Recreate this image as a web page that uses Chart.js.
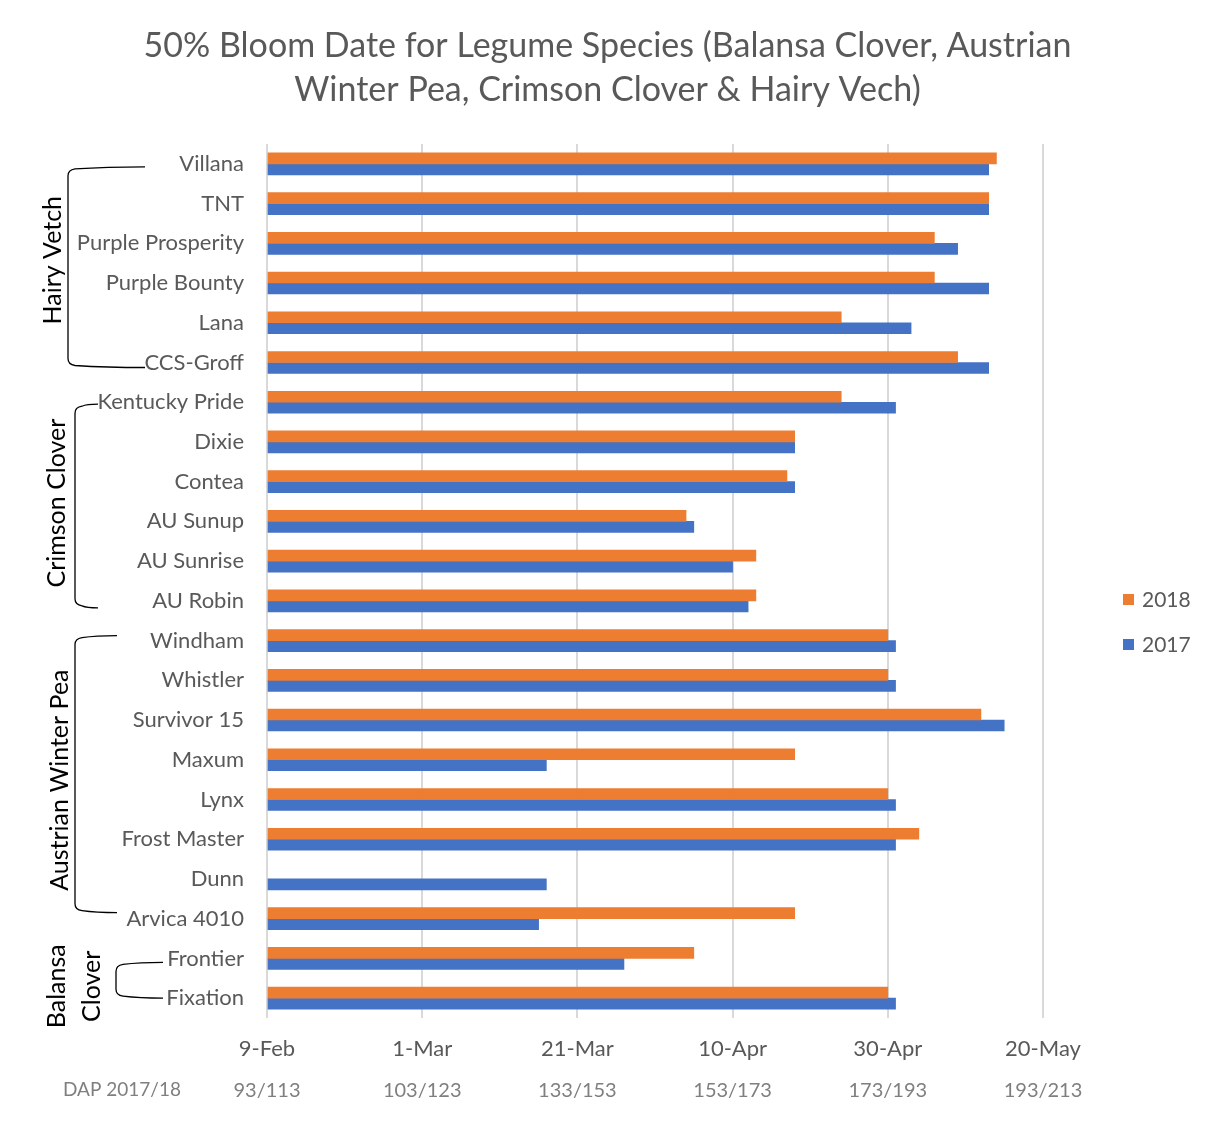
<!DOCTYPE html>
<html>
<head>
<meta charset="utf-8">
<script src="https://cdn.jsdelivr.net/npm/chart.js@4.4.1/dist/chart.umd.min.js"></script>
<style>
  body { margin: 0; background: #fff; }
  #wrap { width: 1215px; height: 1128px; }
</style>
</head>
<body>
<div id="wrap"><canvas id="chart"></canvas></div>
<script>
// varieties, top to bottom
const varieties = ['Villana', 'TNT', 'Purple Prosperity', 'Purple Bounty', 'Lana', 'CCS-Groff',
  'Kentucky Pride', 'Dixie', 'Contea', 'AU Sunup', 'AU Sunrise', 'AU Robin',
  'Windham', 'Whistler', 'Survivor 15', 'Maxum', 'Lynx', 'Frost Master', 'Dunn', 'Arvica 4010',
  'Frontier', 'Fixation'];

// 50% bloom, in days after 9-Feb
const bloom2018 = [94, 93, 86, 86, 74, 89, 74, 68, 67, 54, 63, 63, 80, 80, 92, 68, 80, 84, null, 68, 55, 80];
const bloom2017 = [93, 93, 89, 93, 83, 93, 81, 68, 68, 55, 60, 62, 81, 81, 95, 36, 81, 81, 36, 35, 46, 81];

const dateTicks = ['9-Feb', '1-Mar', '21-Mar', '10-Apr', '30-Apr', '20-May'];
const dapTicks = ['93/113', '103/123', '133/153', '153/173', '173/193', '193/213'];

// species groups: name lines, first and last variety index
const groupNames = [['Hairy Vetch'], ['Crimson Clover'], ['Austrian Winter Pea'], ['Balansa', 'Clover']];
const groupFirst = [0, 6, 12, 20];
const groupLast = [5, 11, 19, 21];

const FONT = 'Lato, "Open Sans", sans-serif';
const GREY = '#595959';

// brackets, group labels, DAP caption and legend
const extras = {
  id: 'extras',
  afterDraw(chart) {
    const ctx = chart.ctx;
    const y = chart.scales.y;
    const brk = [
      { vx: 68, arm: 145, lx: [53], dt: 3, db: 5, ly: -7 },
      { vx: 75, arm: 98, lx: [57], dt: 2, db: 7, ly: -3 },
      { vx: 75, arm: 117, lx: [60], dt: -5, db: -6, ly: 6 },
      { vx: 116, arm: 163, lx: [57, 92], dt: 4, db: 0, ly: 6 }
    ];
    ctx.save();
    groupNames.forEach((name, g) => {
      const b = brk[g];
      const top = y.getPixelForValue(groupFirst[g]) + b.dt;
      const bot = y.getPixelForValue(groupLast[g]) + b.db;
      const r = 7;
      ctx.strokeStyle = '#000';
      ctx.lineWidth = 1.3;
      ctx.beginPath();
      ctx.moveTo(b.arm, top);
      ctx.quadraticCurveTo((b.arm + b.vx) / 2, top, b.vx + r, top + 2);
      ctx.quadraticCurveTo(b.vx, top + 3, b.vx, top + r + 2);
      ctx.lineTo(b.vx, bot - r - 2);
      ctx.quadraticCurveTo(b.vx, bot - 3, b.vx + r, bot - 2);
      ctx.quadraticCurveTo((b.arm + b.vx) / 2, bot, b.arm, bot);
      ctx.stroke();

      const cy = (top + bot) / 2 + b.ly;
      ctx.fillStyle = '#000';
      ctx.font = '25px ' + FONT;
      ctx.textAlign = 'center';
      ctx.textBaseline = 'middle';
      name.forEach((line, i) => {
        ctx.save();
        ctx.translate(b.lx[i], cy);
        ctx.rotate(-Math.PI / 2);
        ctx.fillText(line, 0, 0);
        ctx.restore();
      });
    });

    // DAP caption on the left of the second axis row
    ctx.fillStyle = '#7f7f7f';
    ctx.font = '19px ' + FONT;
    ctx.textAlign = 'center';
    ctx.textBaseline = 'middle';
    ctx.fillText('DAP 2017/18', 122, 1090);

    // legend
    const ca = chart.chartArea;
    const mid = (ca.top + ca.bottom) / 2;
    chart.data.datasets.forEach((ds, i) => {
      const ly = mid + 19 + i * 45;
      ctx.fillStyle = ds.backgroundColor;
      ctx.fillRect(1123, ly - 6, 11, 11);
      ctx.fillStyle = GREY;
      ctx.font = '21px ' + FONT;
      ctx.textAlign = 'left';
      ctx.fillText(ds.label, 1142, ly);
    });
    ctx.restore();
  }
};

new Chart(document.getElementById('chart'), {
  type: 'bar',
  data: {
    labels: varieties,
    datasets: [
      { label: '2018', data: bloom2018, backgroundColor: '#ED7D31', barThickness: 11 },
      { label: '2017', data: bloom2017, backgroundColor: '#4472C4', barThickness: 11 }
    ]
  },
  options: {
    indexAxis: 'y',
    responsive: true,
    maintainAspectRatio: false,
    animation: false,
    layout: { padding: { left: 0, right: 0, top: 0, bottom: 27 } },
    plugins: {
      legend: { display: false },
      tooltip: { enabled: false },
      title: {
        display: true,
        text: ['50% Bloom Date for Legume Species (Balansa Clover, Austrian', 'Winter Pea, Crimson Clover & Hairy Vech)'],
        color: GREY,
        font: { family: FONT, size: 34, weight: 'normal', lineHeight: 1.294 },
        padding: { top: 24, bottom: 32 }
      }
    },
    scales: {
      y: {
        grid: { display: false, drawTicks: false },
        border: { display: false },
        ticks: { color: GREY, font: { family: FONT, size: 22 }, padding: 23 },
        afterFit(s) { s.width = 267; }
      },
      x: {
        position: 'bottom',
        min: 0,
        max: 100,
        grid: { color: '#d9d9d9', lineWidth: 2, drawTicks: false },
        border: { display: false },
        ticks: {
          stepSize: 20,
          maxRotation: 0,
          color: GREY,
          font: { family: FONT, size: 22 },
          padding: 18,
          callback: (v, i) => dateTicks[i]
        },
        // keep room on the right for the legend
        afterFit(s) { s.height = 43; s.paddingRight = 172; }
      },
      x2: {
        position: 'bottom',
        min: 0,
        max: 100,
        grid: { display: false, drawTicks: false },
        border: { display: false },
        ticks: {
          stepSize: 20,
          maxRotation: 0,
          color: '#7f7f7f',
          font: { family: FONT, size: 20 },
          padding: 18,
          callback: (v, i) => dapTicks[i]
        },
        afterFit(s) { s.height = 40; }
      }
    }
  },
  plugins: [extras]
});
</script>
</body>
</html>
